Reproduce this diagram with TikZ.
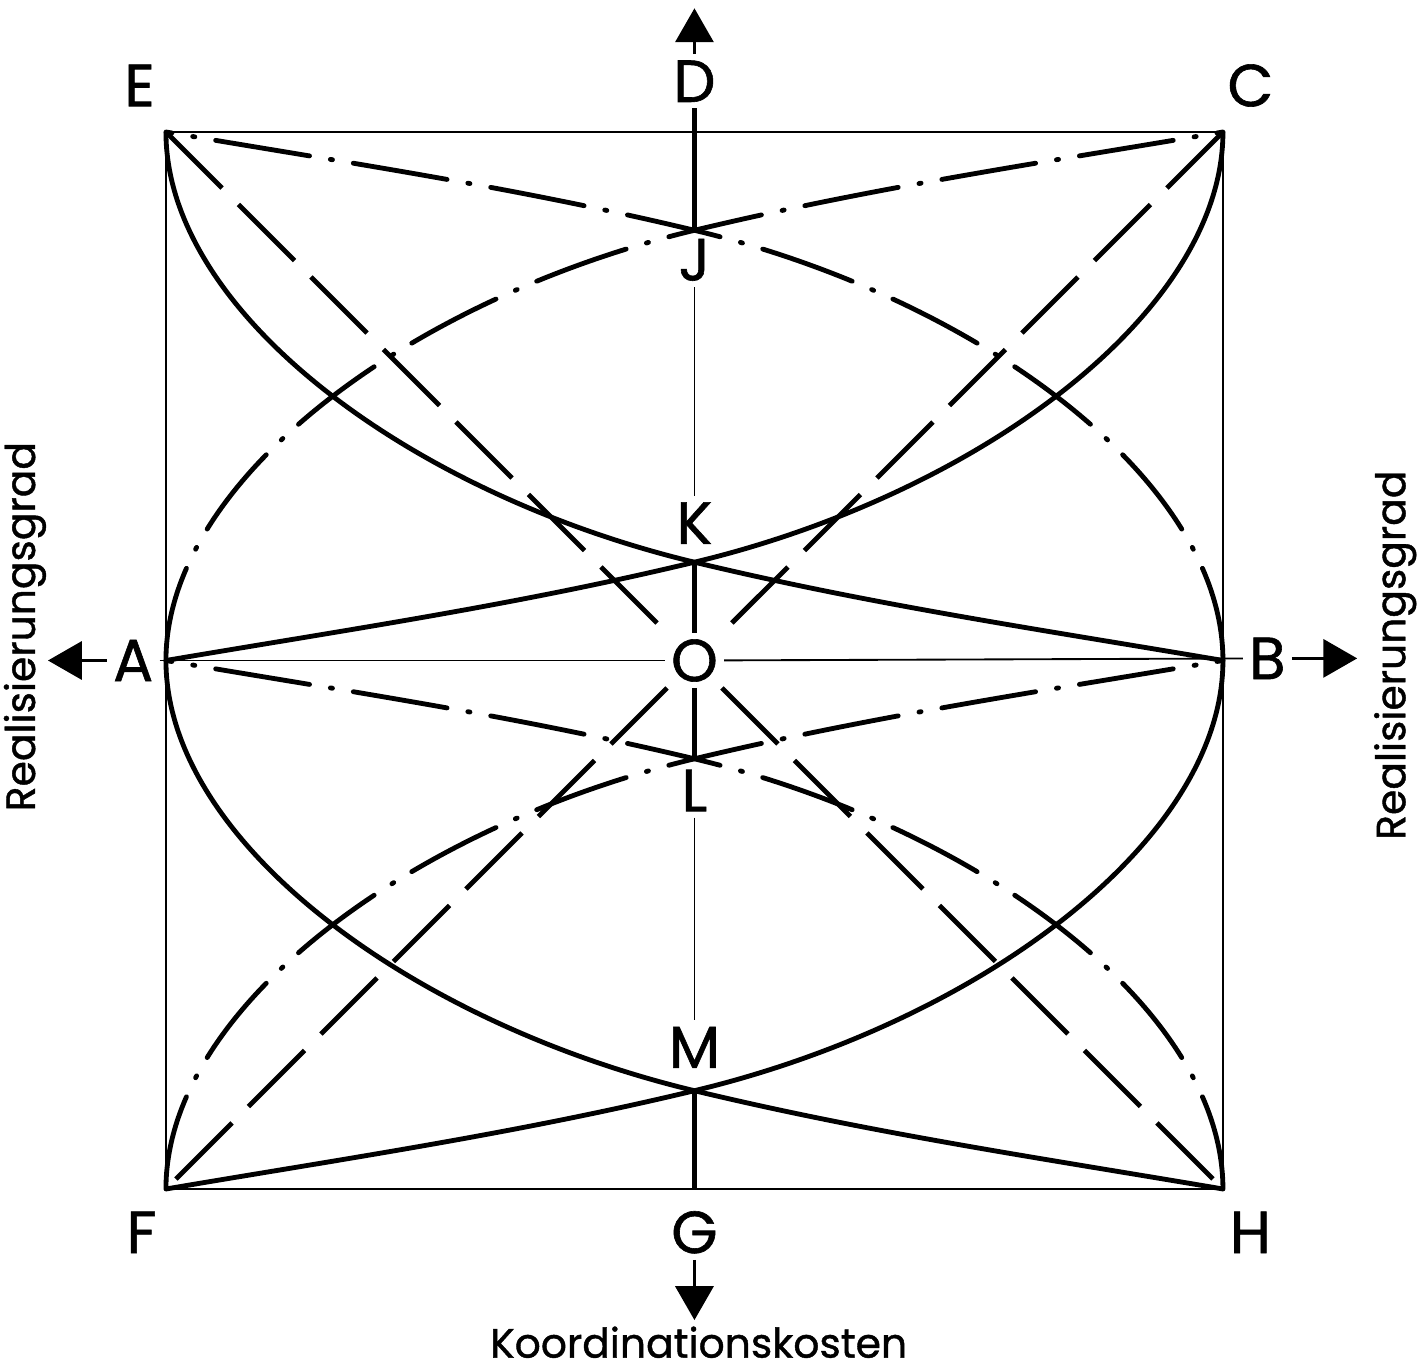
\documentclass[tikz,border=0pt]{standalone}
\usepackage{fontspec}
\setmainfont{Poppins}[FakeBold=1]
\usetikzlibrary{arrows.meta}
\tikzset{
  frame line/.style={line width=0.5pt},
  curve line/.style={line width=1.3pt},
  dashdot line/.style={
    line width=1.3pt, line cap=round,
    dash pattern=on 9mm off 2mm on 0.2mm off 2mm
  },
  diag line/.style={line width=1.3pt, dash pattern=on 7.5mm off 2.2mm},
  axis thin/.style={line width=0.5pt},
  axis thick/.style={line width=1.3pt},
  axis arrow/.style={
    line width=0.8pt, -{Triangle[length=3.2mm, width=3.6mm]}
  },
  point label/.style={font=\fontsize{16}{16}\selectfont, inner sep=1.5pt},
  axis label/.style={font=\fontsize{11}{12}\selectfont, inner sep=0pt},
}
% one curve, from E to B; the others are mirror images of it
\newcommand{\basecurve}{(0,10) .. controls (0,8.3) and (2.3,6.578) .. (5,5.93)
  .. controls (6.7,5.522) and (8.3,5.289) .. (10,5)}

\begin{document}
\begin{tikzpicture}
  \useasboundingbox (-1.570,-1.703) rectangle (11.940,11.249);

  % square
  \coordinate (pF) at (0,0);
  \coordinate (pH) at (10,0);
  \coordinate (pC) at (10,10);
  \coordinate (pE) at (0,10);
  \coordinate (pG) at (5,0);
  \coordinate (pJ) at (5,9.07);
  \coordinate (pK) at (5,5.93);
  \coordinate (pL) at (5,4.07);
  \coordinate (pM) at (5,0.93);
  \draw[frame line] (pF) rectangle (pC);

  % letters
  \node[point label] (E) at (-0.25,10.44) {E};
  \node[point label] (D) at (5,10.48) {D};
  \node[point label] (C) at (10.26,10.44) {C};
  \node[point label] (F) at (-0.23,-0.41) {F};
  \node[point label] (G) at (5,-0.41) {G};
  \node[point label] (H) at (10.26,-0.41) {H};
  \node[point label] (A) at (-0.31,5) {A};
  \node[point label] (B) at (10.42,5.02) {B};
  \node[point label] (O) at (5,5) {O};
  \node[point label] (J) at (5,8.79) {J};
  \node[point label] (K) at (5,6.30) {K};
  \node[point label] (L) at (5,3.77) {L};
  \node[point label] (M) at (5,1.34) {M};

  % axes
  \coordinate (tipA) at (-1.116,5);
  \coordinate (tipB) at (11.27,5.02);
  \coordinate (tipD) at (5,11.17);
  \coordinate (tipG) at (5,-1.24);
  \draw[axis arrow] (A) -- (tipA);
  \draw[axis arrow] (B) -- (tipB);
  \draw[axis arrow] (D) -- (tipD);
  \draw[axis arrow] (G) -- (tipG);
  \draw[axis thin] (A) -- (O);
  \draw[axis thin] (O) -- (B);
  \draw[axis thick] (D) -- (pJ);
  \draw[axis thin] (J) -- (K);
  \draw[axis thick] (pK) -- (O);
  \draw[axis thick] (O) -- (pL);
  \draw[axis thin] (L) -- (M);
  \draw[axis thick] (pM) -- (pG);

  % diagonals
  \draw[diag line] (pE) -- (O);
  \draw[diag line] (O) -- (pH);
  \draw[diag line] (pC) -- (O);
  \draw[diag line] (O) -- (pF);

  % curves
  \foreach \dx/\dy/\sx/\sy/\kind in {
      0/0/1/1/curve line, 10/0/-1/1/curve line,
      0/-5/1/1/curve line, 10/-5/-1/1/curve line,
      10/15/-1/-1/dashdot line, 0/15/1/-1/dashdot line,
      10/10/-1/-1/dashdot line, 0/10/1/-1/dashdot line}
    \draw[\kind, shift={(\dx,\dy)}, xscale=\sx, yscale=\sy] \basecurve;

  % axis names
  \node[axis label, rotate=90] (left) at (-1.334,5.32) {Realisierungsgrad};
  \node[axis label, rotate=90] (right) at (11.63,5.05) {Realisierungsgrad};
  \node[axis label] (bottom) at (5.04,-1.45) {Koordinationskosten};
\end{tikzpicture}
\end{document}
